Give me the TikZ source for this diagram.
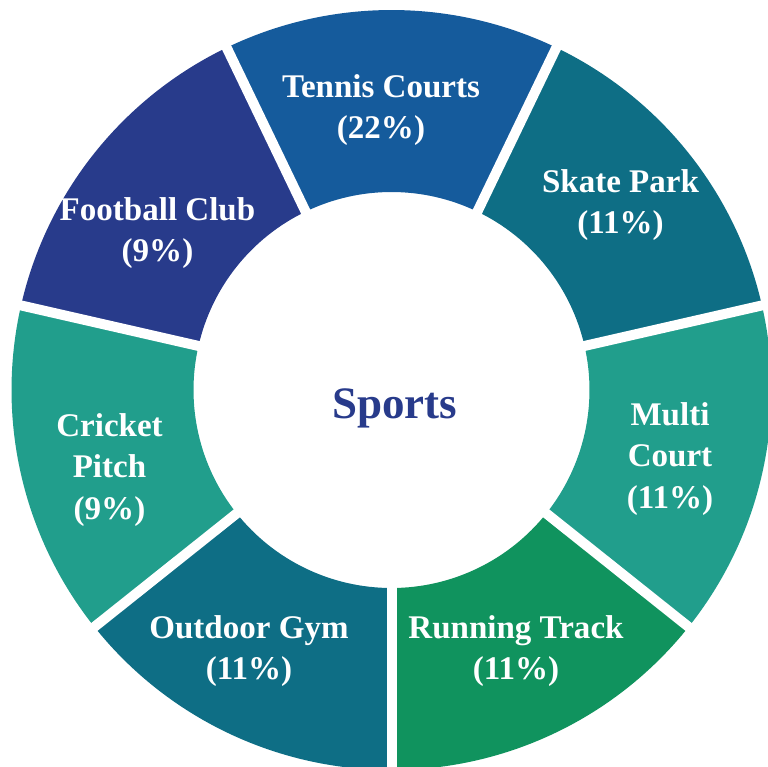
\documentclass[tikz,border=0pt]{standalone}
\usepackage{fontspec}
\setmainfont{Liberation Serif}
\definecolor{tennisblue}{RGB}{21,91,156}
\definecolor{clubnavy}{RGB}{40,59,139}
\definecolor{parkteal}{RGB}{14,110,133}
\definecolor{courtgreen}{RGB}{33,158,140}
\definecolor{trackgreen}{RGB}{16,147,94}

\begin{document}
\begin{tikzpicture}[
  seglabel/.style={text=white,align=center,font=\fontsize{18.8}{23.8}\selectfont\bfseries},
  gapline/.style={white,line width=0.2cm}]
\useasboundingbox (-7.83,-7.52) rectangle (7.53,7.80);

% ring sectors, inner radius 3.96, outer radius 7.6
\fill[trackgreen] (-90:3.96) arc[start angle=-90,end angle=-38.57,radius=3.96]
  -- (-38.57:7.6) arc[start angle=-38.57,end angle=-90,radius=7.6] -- cycle;
\fill[courtgreen] (-38.57:3.96) arc[start angle=-38.57,end angle=12.86,radius=3.96]
  -- (12.86:7.6) arc[start angle=12.86,end angle=-38.57,radius=7.6] -- cycle;
\fill[parkteal] (12.86:3.96) arc[start angle=12.86,end angle=64.29,radius=3.96]
  -- (64.29:7.6) arc[start angle=64.29,end angle=12.86,radius=7.6] -- cycle;
\fill[tennisblue] (64.29:3.96) arc[start angle=64.29,end angle=115.71,radius=3.96]
  -- (115.71:7.6) arc[start angle=115.71,end angle=64.29,radius=7.6] -- cycle;
\fill[clubnavy] (115.71:3.96) arc[start angle=115.71,end angle=167.14,radius=3.96]
  -- (167.14:7.6) arc[start angle=167.14,end angle=115.71,radius=7.6] -- cycle;
\fill[courtgreen] (167.14:3.96) arc[start angle=167.14,end angle=218.57,radius=3.96]
  -- (218.57:7.6) arc[start angle=218.57,end angle=167.14,radius=7.6] -- cycle;
\fill[parkteal] (218.57:3.96) arc[start angle=218.57,end angle=270,radius=3.96]
  -- (270:7.6) arc[start angle=270,end angle=218.57,radius=7.6] -- cycle;

% white gaps between sectors
\coordinate (hub) at (0,0);
\foreach \a in {270,321.43,12.86,64.29,115.71,167.14,218.57}
  \draw[gapline] (hub) -- (\a:7.8);

\node[seglabel] (tennis) at (-0.21,5.60) {Tennis Courts\\(22\%)};
\node[seglabel] (skate) at (4.58,3.70) {Skate Park\\(11\%)};
\node[seglabel] (multi) at (5.57,-1.38) {Multi\\Court\\(11\%)};
\node[seglabel] (running) at (2.49,-5.22) {Running Track\\(11\%)};
\node[seglabel] (outdoor) at (-2.85,-5.22) {Outdoor Gym\\(11\%)};
\node[seglabel] (cricket) at (-5.64,-1.60) {Cricket\\Pitch\\(9\%)};
\node[seglabel] (football) at (-4.68,3.14) {Football Club\\(9\%)};

\node[anchor=base,text=clubnavy,font=\fontsize{25.6}{30}\selectfont\bfseries] (sports) at (0.06,-0.56) {Sports};
\end{tikzpicture}
\end{document}
